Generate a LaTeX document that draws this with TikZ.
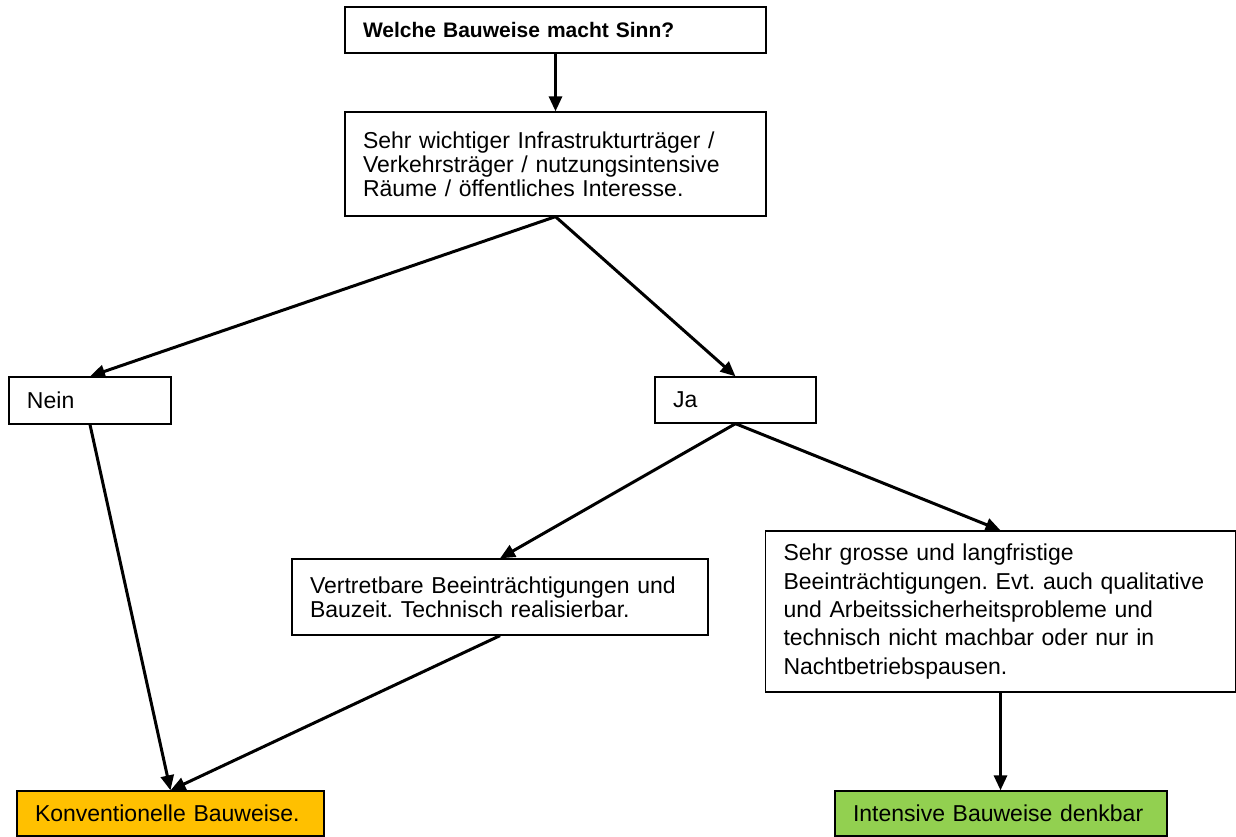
\documentclass[tikz,border=0pt]{standalone}
\usepackage{fontspec}
\setmainfont{Liberation Sans}
\usetikzlibrary{arrows.meta}
\definecolor{konvorange}{HTML}{FFC000}
\definecolor{intgreen}{HTML}{92D050}
\frenchspacing
\begin{document}
\begin{tikzpicture}[x=1pt,y=-1pt,
  box/.style={draw, line width=1.3pt, inner xsep=18pt, inner ysep=0pt, align=left,
    font=\fontsize{23}{24}\selectfont},
  conn/.style={line width=3pt, -{Triangle[length=15pt,width=13pt]}}]
\useasboundingbox (0,0) rectangle (1236,837);
\node[box, text width=385pt, minimum height=46pt, font=\fontsize{21}{24}\selectfont\bfseries] (top) at (555.5,30) {Welche Bauweise macht Sinn?};
\node[box, text width=385pt, minimum height=104pt] (q) at (555.5,164) {Sehr wichtiger Infrastrukturträger /\\Verkehrsträger / nutzungsintensive\\Räume / öffentliches Interesse.};
\node[box, text width=126pt, minimum height=47pt] (nein) at (90,400.5) {Nein};
\node[box, text width=125pt, minimum height=46pt] (ja) at (735.5,400) {Ja};
\node[box, text width=380pt, minimum height=76pt] (vert) at (500,597) {Vertretbare Beeinträchtigungen und\\Bauzeit. Technisch realisierbar.};
\node[box, text width=434pt, minimum height=161pt, font=\fontsize{23}{28.3}\selectfont] (sehr) at (1000.5,611.5) {Sehr grosse und langfristige\\Beeinträchtigungen. Evt. auch qualitative\\und Arbeitssicherheitsprobleme und\\technisch nicht machbar oder nur in\\Nachtbetriebspausen.};
\node[box, fill=konvorange, text width=271pt, minimum height=45pt] (konv) at (170.5,813.5) {Konventionelle Bauweise.};
\node[box, fill=intgreen, text width=296pt, minimum height=45pt] (int) at (1001,813.5) {Intensive Bauweise denkbar};
\draw[conn] (top.south) -- (q.north);
\draw[conn] (q.south) -- (nein.north);
\draw[conn] (q.south) -- (ja.north);
\draw[conn] (nein.south) -- (konv.north);
\draw[conn] (ja.south) -- (vert.north);
\draw[conn] (ja.south) -- (sehr.north);
\draw[conn] (vert.south) -- (konv.north);
\draw[conn] (sehr.south) -- (sehr.south |- int.north);
\end{tikzpicture}
\end{document}
